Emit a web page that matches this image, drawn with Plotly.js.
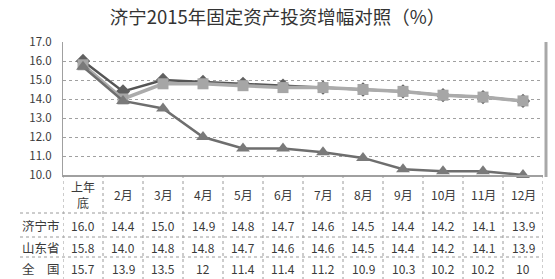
<!DOCTYPE html>
<html><head><meta charset="utf-8">
<script src="https://cdn.plot.ly/plotly-3.0.1.min.js"></script>
<style>html,body{margin:0;padding:0;background:#fff}#chart{width:555px;height:279px}</style>
</head><body><div id="chart"></div>
<script>
const categories = ['上年底','2月','3月','4月','5月','6月','7月','8月','9月','10月','11月','12月'];
const headerLabels = ['上年<br>底','2月','3月','4月','5月','6月','7月','8月','9月','10月','11月','12月'];
const seriesNames = ['济宁市','山东省','全　国'];
const jining   = [16.0,14.4,15.0,14.9,14.8,14.7,14.6,14.5,14.4,14.2,14.1,13.9];
const shandong = [15.8,14.0,14.8,14.8,14.7,14.6,14.6,14.5,14.4,14.2,14.1,13.9];
const national = [15.7,13.9,13.5,12,11.4,11.4,11.2,10.9,10.3,10.2,10.2,10];
const tableText = [
  jining.map(v=>v.toFixed(1)),
  shandong.map(v=>v.toFixed(1)),
  national.map(v=>String(v))
];

const FONT = '"Noto Sans CJK SC", "Noto Sans", sans-serif';
const TXT = '#3a3a3a';
const W = 555, H = 279, ML = 63, MR = 12, MT = 42, MB = 104;
const PH = H - MT - MB, PW = W - ML - MR;
const py = p => -(p - (H - MB)) / PH;   // pixel y -> paper y
const px = p => (p - ML) / PW;          // pixel x -> paper x

const traces = [
  {x: categories, y: jining, name: seriesNames[0], mode: 'lines+markers', cliponaxis: false,
   line: {color: '#555555', width: 2.5}, marker: {symbol: 'diamond', size: 11, color: '#606060'}},
  {x: categories, y: shandong, name: seriesNames[1], mode: 'lines+markers', cliponaxis: false,
   line: {color: '#ababab', width: 3.5}, marker: {symbol: 'square', size: 11, color: '#a6a6a6'}},
  {x: categories, y: national, name: seriesNames[2], mode: 'lines+markers', cliponaxis: false,
   line: {color: '#6e6e6e', width: 2.5}, marker: {symbol: 'triangle-up', size: 12, color: '#7a7a7a'}}
];

const annotations = [];
const shapes = [];
// header row
headerLabels.forEach((t, i) => {
  annotations.push({xref: 'x', yref: 'paper', x: categories[i], y: py(194), text: t, showarrow: false,
    xanchor: 'center', yanchor: 'middle', font: {family: FONT, size: 12, color: TXT}});
});
const rowY = [225, 247, 268];
seriesNames.forEach((n, r) => {
  annotations.push({xref: 'paper', yref: 'paper', x: px(41), y: py(rowY[r]), text: n, showarrow: false,
    xanchor: 'center', yanchor: 'middle', font: {family: FONT, size: 12.5, color: TXT}});
  tableText[r].forEach((t, i) => {
    annotations.push({xref: 'x', yref: 'paper', x: categories[i], y: py(rowY[r]), text: t, showarrow: false,
      xanchor: 'center', yanchor: 'middle', font: {family: FONT, size: 12, color: TXT}});
  });
});
// vertical table grid lines
for (let i = 0; i <= categories.length; i++) {
  shapes.push({type: 'line', xref: 'x', yref: 'paper', x0: i - 0.5, x1: i - 0.5, y0: 0, y1: py(H + 5),
    line: {color: '#9a9a9a', width: 1, dash: 'dot'}});
}
// horizontal table grid lines
[213, 237, 257].forEach(p => {
  shapes.push({type: 'line', xref: 'paper', yref: 'paper', x0: px(20), x1: 1, y0: py(p), y1: py(p),
    line: {color: '#9a9a9a', width: 1, dash: 'dot'}});
});
// right shadow of plot area
shapes.push({type: 'line', xref: 'paper', yref: 'paper', x0: px(W - MR + 3), x1: px(W - MR + 3), y0: py(H - MB + 2), y1: 1,
  line: {color: '#a8a8a8', width: 3}});

const layout = {
  width: W, height: H,
  margin: {l: ML, r: MR, t: MT, b: MB, pad: 0},
  paper_bgcolor: '#fff', plot_bgcolor: '#fff',
  showlegend: false,
  title: {text: '济宁2015年固定资产投资增幅对照（%）', x: 0.5, xanchor: 'center', y: 1 - 18 / H, yanchor: 'middle',
    font: {family: FONT, size: 18.5, color: '#333'}},
  xaxis: {type: 'category', range: [-0.5, 11.5], showticklabels: false, showgrid: false, zeroline: false,
    showline: true, linecolor: '#a0a0a0', linewidth: 1.5, ticks: '', fixedrange: true},
  yaxis: {range: [10, 17], dtick: 1, tickformat: '.1f', showgrid: true, gridcolor: '#a0a0a0', griddash: 'dot', gridwidth: 1,
    zeroline: false, showline: true, linecolor: '#a0a0a0', linewidth: 1, ticks: '', ticklabelstandoff: 8,
    tickfont: {family: FONT, size: 11.5, color: TXT}, fixedrange: true},
  annotations: annotations,
  shapes: shapes
};
Plotly.newPlot('chart', traces, layout, {displayModeBar: false, staticPlot: true});
</script></body></html>
